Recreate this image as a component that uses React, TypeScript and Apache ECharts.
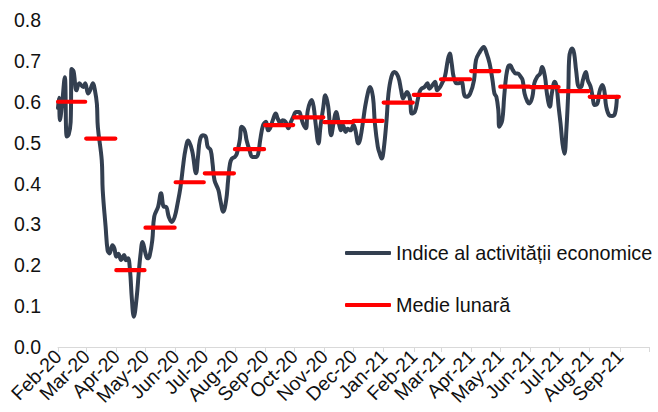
import React, { useEffect, useRef } from "react";
import * as echarts from "echarts";

// Tick positions: first day of each month (last one is the axis end, unlabelled)
const monthStarts = [
  "2020-02-01", "2020-03-01", "2020-04-01", "2020-05-01", "2020-06-01", "2020-07-01",
  "2020-08-01", "2020-09-01", "2020-10-01", "2020-11-01", "2020-12-01", "2021-01-01",
  "2021-02-01", "2021-03-01", "2021-04-01", "2021-05-01", "2021-06-01", "2021-07-01",
  "2021-08-01", "2021-09-01", "2021-10-01",
];
const monthLabels = [
  "Feb-20", "Mar-20", "Apr-20", "May-20", "Jun-20", "Jul-20", "Aug-20", "Sep-20",
  "Oct-20", "Nov-20", "Dec-20", "Jan-21", "Feb-21", "Mar-21", "Apr-21", "May-21",
  "Jun-21", "Jul-21", "Aug-21", "Sep-21",
];
const yTicks = [0, 0.1, 0.2, 0.3, 0.4, 0.5, 0.6, 0.7, 0.8];

// Monthly means, Feb-20 .. Aug-21
const monthlyMeans = [
  0.600, 0.510, 0.188, 0.292, 0.403, 0.425, 0.484, 0.543, 0.562, 0.550,
  0.553, 0.598, 0.617, 0.655, 0.675, 0.637, 0.636, 0.626, 0.612,
];

const seriesIndexName = "Indice al activității economice";
const seriesMeanName = "Medie lunară";

const activityIndex: [string, number][] = [
  ["2020-02-01", 0.585], ["2020-02-02", 0.61], ["2020-02-03", 0.555], ["2020-02-05", 0.59],
  ["2020-02-08", 0.66], ["2020-02-10", 0.515], ["2020-02-12", 0.52], ["2020-02-14", 0.55],
  ["2020-02-15", 0.68], ["2020-02-17", 0.675], ["2020-02-20", 0.628], ["2020-02-23", 0.645],
  ["2020-02-27", 0.636], ["2020-02-29", 0.645], ["2020-03-03", 0.62], ["2020-03-05", 0.628],
  ["2020-03-08", 0.645], ["2020-03-10", 0.628], ["2020-03-12", 0.595], ["2020-03-13", 0.538],
  ["2020-03-17", 0.457], ["2020-03-18", 0.384], ["2020-03-21", 0.294], ["2020-03-23", 0.237],
  ["2020-03-25", 0.229], ["2020-03-28", 0.249], ["2020-03-30", 0.241], ["2020-04-01", 0.221],
  ["2020-04-03", 0.228], ["2020-04-06", 0.213], ["2020-04-09", 0.225], ["2020-04-11", 0.212],
  ["2020-04-13", 0.217], ["2020-04-15", 0.19], ["2020-04-17", 0.117], ["2020-04-19", 0.074],
  ["2020-04-22", 0.123], ["2020-04-24", 0.18], ["2020-04-26", 0.229], ["2020-04-28", 0.257],
  ["2020-05-01", 0.229], ["2020-05-03", 0.217], ["2020-05-05", 0.221], ["2020-05-08", 0.261],
  ["2020-05-10", 0.319], ["2020-05-14", 0.343], ["2020-05-17", 0.376], ["2020-05-20", 0.343],
  ["2020-05-22", 0.343], ["2020-05-25", 0.318], ["2020-05-28", 0.306], ["2020-05-31", 0.318],
  ["2020-06-03", 0.351], ["2020-06-06", 0.391], ["2020-06-09", 0.449], ["2020-06-11", 0.481],
  ["2020-06-14", 0.505], ["2020-06-18", 0.48], ["2020-06-22", 0.425], ["2020-06-24", 0.465],
  ["2020-06-26", 0.506], ["2020-06-29", 0.518], ["2020-07-02", 0.514], ["2020-07-04", 0.49],
  ["2020-07-07", 0.482], ["2020-07-09", 0.449], ["2020-07-11", 0.408], ["2020-07-15", 0.384],
  ["2020-07-17", 0.359], ["2020-07-20", 0.331], ["2020-07-23", 0.359], ["2020-07-25", 0.408],
  ["2020-07-27", 0.449], ["2020-07-29", 0.461], ["2020-08-01", 0.465], ["2020-08-03", 0.473],
  ["2020-08-06", 0.506], ["2020-08-08", 0.539], ["2020-08-11", 0.53], ["2020-08-13", 0.506],
  ["2020-08-16", 0.482], ["2020-08-19", 0.465], ["2020-08-23", 0.465], ["2020-08-25", 0.473],
  ["2020-08-27", 0.506], ["2020-08-30", 0.543], ["2020-09-02", 0.551], ["2020-09-04", 0.53],
  ["2020-09-06", 0.534], ["2020-09-09", 0.555], ["2020-09-12", 0.571], ["2020-09-14", 0.559],
  ["2020-09-17", 0.547], ["2020-09-19", 0.555], ["2020-09-22", 0.551], ["2020-09-25", 0.535],
  ["2020-09-27", 0.547], ["2020-09-30", 0.563], ["2020-10-03", 0.575], ["2020-10-06", 0.575],
  ["2020-10-08", 0.563], ["2020-10-10", 0.547], ["2020-10-13", 0.535], ["2020-10-15", 0.579],
  ["2020-10-19", 0.604], ["2020-10-21", 0.588], ["2020-10-23", 0.547], ["2020-10-26", 0.498],
  ["2020-10-28", 0.539], ["2020-10-31", 0.588], ["2020-11-02", 0.616], ["2020-11-05", 0.588],
  ["2020-11-08", 0.518], ["2020-11-11", 0.555], ["2020-11-13", 0.575], ["2020-11-16", 0.547],
  ["2020-11-18", 0.53], ["2020-11-20", 0.543], ["2020-11-23", 0.526], ["2020-11-25", 0.534],
  ["2020-11-28", 0.53], ["2020-12-01", 0.543], ["2020-12-03", 0.53], ["2020-12-06", 0.498],
  ["2020-12-08", 0.51], ["2020-12-11", 0.555], ["2020-12-13", 0.588], ["2020-12-16", 0.624],
  ["2020-12-18", 0.636], ["2020-12-21", 0.612], ["2020-12-23", 0.547], ["2020-12-26", 0.49],
  ["2020-12-28", 0.473], ["2020-12-30", 0.461], ["2021-01-01", 0.482], ["2021-01-04", 0.555],
  ["2021-01-06", 0.62], ["2021-01-09", 0.661], ["2021-01-12", 0.673], ["2021-01-16", 0.661],
  ["2021-01-19", 0.628], ["2021-01-21", 0.608], ["2021-01-23", 0.616], ["2021-01-25", 0.624],
  ["2021-01-28", 0.608], ["2021-01-30", 0.571], ["2021-02-02", 0.575], ["2021-02-05", 0.604],
  ["2021-02-07", 0.624], ["2021-02-09", 0.632], ["2021-02-12", 0.636], ["2021-02-15", 0.645],
  ["2021-02-17", 0.632], ["2021-02-20", 0.64], ["2021-02-23", 0.649], ["2021-02-25", 0.628],
  ["2021-02-28", 0.636], ["2021-03-02", 0.645], ["2021-03-05", 0.661], ["2021-03-08", 0.702],
  ["2021-03-10", 0.718], ["2021-03-12", 0.694], ["2021-03-14", 0.661], ["2021-03-17", 0.645],
  ["2021-03-19", 0.645], ["2021-03-22", 0.649], ["2021-03-25", 0.616], ["2021-03-27", 0.612],
  ["2021-03-31", 0.62], ["2021-04-04", 0.653], ["2021-04-06", 0.702], ["2021-04-10", 0.722],
  ["2021-04-14", 0.734], ["2021-04-17", 0.718], ["2021-04-20", 0.694], ["2021-04-23", 0.653],
  ["2021-04-25", 0.62], ["2021-04-27", 0.612], ["2021-04-29", 0.579], ["2021-04-30", 0.539],
  ["2021-05-03", 0.555], ["2021-05-05", 0.612], ["2021-05-07", 0.661], ["2021-05-09", 0.685],
  ["2021-05-11", 0.689], ["2021-05-14", 0.677], ["2021-05-17", 0.669], ["2021-05-19", 0.669],
  ["2021-05-22", 0.661], ["2021-05-24", 0.653], ["2021-05-26", 0.62], ["2021-05-29", 0.6],
  ["2021-05-31", 0.596], ["2021-06-03", 0.612], ["2021-06-05", 0.645], ["2021-06-08", 0.661],
  ["2021-06-11", 0.669], ["2021-06-13", 0.685], ["2021-06-16", 0.661], ["2021-06-18", 0.62],
  ["2021-06-21", 0.588], ["2021-06-23", 0.62], ["2021-06-26", 0.649], ["2021-06-28", 0.636],
  ["2021-06-30", 0.588], ["2021-07-02", 0.547], ["2021-07-04", 0.498], ["2021-07-06", 0.473],
  ["2021-07-08", 0.531], ["2021-07-10", 0.628], ["2021-07-11", 0.71], ["2021-07-14", 0.73],
  ["2021-07-16", 0.718], ["2021-07-18", 0.677], ["2021-07-21", 0.636], ["2021-07-23", 0.636],
  ["2021-07-25", 0.653], ["2021-07-28", 0.673], ["2021-07-30", 0.653], ["2021-08-02", 0.636],
  ["2021-08-04", 0.612], ["2021-08-06", 0.592], ["2021-08-09", 0.596], ["2021-08-11", 0.624],
  ["2021-08-14", 0.641], ["2021-08-16", 0.628], ["2021-08-18", 0.588], ["2021-08-21", 0.567],
  ["2021-08-24", 0.565], ["2021-08-27", 0.571], ["2021-08-29", 0.612],
];

const DAY = 86400000;
const isoDay = (t: number) => new Date(t).toISOString().slice(0, 10);
const parseDay = (s: string) => Date.parse(s + "T00:00:00Z");

function buildDays(start: string, end: string): string[] {
  const out: string[] = [];
  for (let t = parseDay(start); t <= parseDay(end); t += DAY) out.push(isoDay(t));
  return out;
}

const FONT = "'Liberation Sans', Arial, sans-serif";

export default function App() {
  const ref = useRef<HTMLDivElement>(null);

  useEffect(() => {
    if (!ref.current) return;
    const chart = echarts.init(ref.current, undefined, { renderer: "svg" });

    const days = buildDays(monthStarts[0], monthStarts[monthStarts.length - 1]);
    const labelOf: Record<string, string> = {};
    monthLabels.forEach((l, i) => (labelOf[monthStarts[i]] = l));
    const tickSet = new Set(monthStarts);

    const meanData: any[] = [];
    monthlyMeans.forEach((v, i) => {
      const start = monthStarts[i];
      const end = isoDay(parseDay(monthStarts[i + 1]) - DAY);
      meanData.push([start, v], [end, v], [end, null]);
    });

    const legendText = { fontSize: 19.8, color: "#111", fontFamily: FONT, lineHeight: 20 };

    chart.setOption({
      animation: false,
      textStyle: { fontFamily: FONT },
      grid: {
        left: 58,
        right: 9,
        top: 20,
        bottom: 65,
        containLabel: false,
        outerBoundsMode: "none",
      },
      legend: [
        {
          data: [seriesIndexName],
          left: 345,
          top: 243,
          padding: 0,
          itemWidth: 46,
          itemHeight: 4,
          icon: "roundRect",
          selectedMode: false,
          textStyle: legendText,
        },
        {
          data: [seriesMeanName],
          left: 345,
          top: 295,
          padding: 0,
          itemWidth: 46,
          itemHeight: 4,
          icon: "roundRect",
          selectedMode: false,
          textStyle: legendText,
        },
      ],
      xAxis: {
        type: "category",
        data: days,
        boundaryGap: false,
        axisLine: { show: true, lineStyle: { color: "#D9D9D9", width: 1 } },
        axisTick: {
          show: true,
          length: 5,
          interval: (_i: number, v: string) => tickSet.has(v),
          lineStyle: { color: "#D9D9D9" },
        },
        axisLabel: {
          interval: (_i: number, v: string) => !!labelOf[v],
          formatter: (v: string) => labelOf[v] || "",
          rotate: 45,
          margin: 6,
          fontSize: 19.5,
          color: "#111",
          fontFamily: FONT,
        },
        splitLine: { show: false },
      },
      yAxis: {
        type: "value",
        min: yTicks[0],
        max: yTicks[yTicks.length - 1],
        interval: 0.1,
        axisLine: { show: false },
        axisTick: { show: false },
        splitLine: { show: false },
        axisLabel: {
          margin: 17,
          fontSize: 19.5,
          color: "#111",
          fontFamily: FONT,
          formatter: (v: number) => v.toFixed(1),
        },
      },
      series: [
        {
          name: seriesIndexName,
          type: "line",
          data: activityIndex,
          showSymbol: false,
          symbol: "none",
          smooth: 0.4,
          color: "#333F50",
          lineStyle: { color: "#333F50", width: 4, join: "round", cap: "round" },
          z: 2,
        },
        {
          name: seriesMeanName,
          type: "line",
          data: meanData,
          showSymbol: false,
          symbol: "none",
          connectNulls: false,
          color: "#FF0000",
          lineStyle: { color: "#FF0000", width: 4.2, cap: "round" },
          z: 3,
        },
      ],
    });

    return () => chart.dispose();
  }, []);

  return (
    <div
      ref={ref}
      style={{ position: "fixed", left: 0, top: 0, width: 658, height: 412, background: "#fff" }}
    />
  );
}
